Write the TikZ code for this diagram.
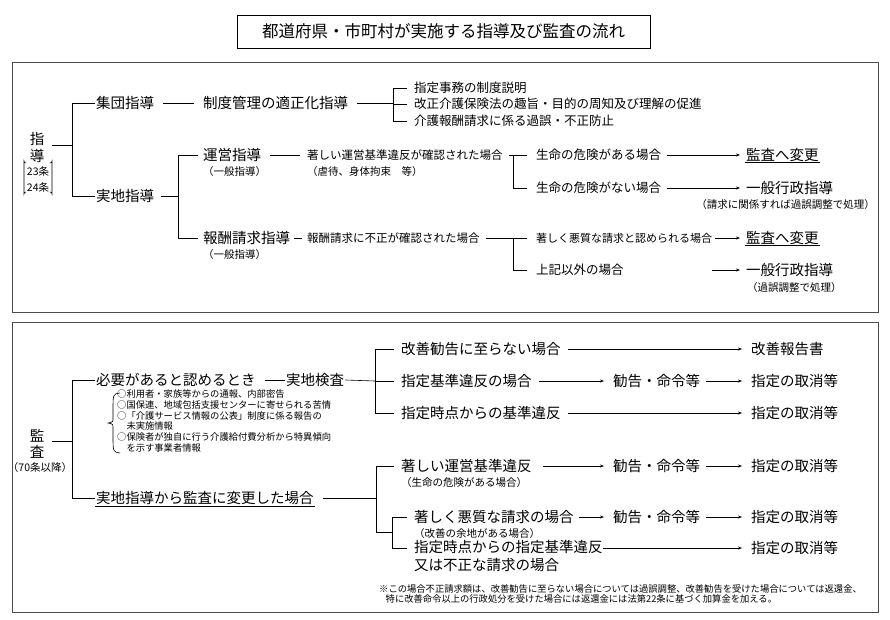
\documentclass[tikz,border=0pt]{standalone}
\usepackage{fontspec}
\setmainfont{Noto Sans CJK JP}
\usetikzlibrary{arrows.meta,calc}
\begin{document}
\begin{tikzpicture}[x=1pt,y=-1pt,
  every node/.style={inner sep=1pt,anchor=west},
  big/.style={font=\fontsize{14.5}{16}\selectfont},
  mid/.style={font=\fontsize{12.5}{14}\selectfont},
  sm/.style={font=\fontsize{10.5}{12}\selectfont},
  tiny/.style={font=\fontsize{9.3}{10.7}\selectfont,align=left},
  ln/.style={line width=0.6pt},
  ar/.style={line width=0.6pt,-{Stealth[length=4pt,width=3pt]}},
  ul/.style={line width=0.8pt}]
\useasboundingbox (0,0) rectangle (890,619);
\draw[line width=0.8pt] (237,15) rectangle (650,48);
\node[anchor=center,font=\fontsize{16.5}{18}\selectfont] (title) at (443.5,31.5) {都道府県・市町村が実施する指導及び監査の流れ};
\draw[line width=0.8pt,draw=black!70] (12,62) rectangle (878,312);
\draw[line width=0.8pt,draw=black!70] (12,322) rectangle (878,612);

% ---- upper ----
\node[big,anchor=center] (shi) at (37,139) {指};
\node[big,anchor=center] (do) at (37,156) {導};
\node[sm,anchor=center] (j23) at (38,171) {23条};
\node[sm,anchor=center] (j24) at (38,187) {24条};
\draw[ln] (26,163) arc[start angle=90,end angle=180,radius=2] -- (24,194) arc[start angle=180,end angle=270,radius=2];
\draw[ln] (50,163) arc[start angle=90,end angle=0,radius=2] -- (52,194) arc[start angle=0,end angle=-90,radius=2];
\coordinate (v1) at (72,145);
\draw[ln] (52,145) -- (v1);
\node[big] (shudan) at (95,103) {集団指導};
\node[big] (jitchi) at (95,196) {実地指導};
\draw[ln] (shudan.west) -- ++(-23,0) |- (jitchi.west);
\node[big] (seido) at (202,103) {制度管理の適正化指導};
\draw[ln] ([xshift=8pt]shudan.east) -- ([xshift=-8pt]seido.west);
\node[mid] (t1) at (413,88) {指定事務の制度説明};
\node[mid] (t2) at (413,104) {改正介護保険法の趣旨・目的の周知及び理解の促進};
\node[mid] (t3) at (413,121) {介護報酬請求に係る過誤・不正防止};
\draw[ln] ([xshift=8pt]seido.east) -- (393,103);
\draw[ln] ([xshift=-6pt]t1.west) -- (393,88) -- (393,121) -- ([xshift=-6pt]t3.west);
\draw[ln] (393,104) -- ([xshift=-6pt]t2.west);

\node[big] (unei) at (202,155) {運営指導};
\node[sm] (unei2) at (202,172) {（一般指導）};
\node[big] (hoshu) at (202,238) {報酬請求指導};
\node[sm] (hoshu2) at (202,255) {（一般指導）};
\draw[ln] ([xshift=6pt]jitchi.east) -- (178,196);
\draw[ln] ([xshift=-4pt]unei.west) -- (178,155) |- ([xshift=-4pt]hoshu.west);

\node[font=\fontsize{11.5}{13}\selectfont] (ichi) at (306,155) {著しい運営基準違反が確認された場合};
\node[sm] (ichi2) at (306,172) {（虐待、身体拘束　等）};
\draw[ln] ([xshift=8pt]unei.east) -- ([xshift=-6pt]ichi.west);
\node[mid] (ari) at (535,155) {生命の危険がある場合};
\node[mid] (nai) at (535,188) {生命の危険がない場合};
\draw[ln] ([xshift=5pt]ichi.east) -- ([xshift=-8pt]ari.west);
\draw[ln] (513,155) |- ([xshift=-8pt]nai.west);
\node[big] (k1) at (745,155) {監査へ変更};
\draw[ul] (k1.south west) -- (k1.south east);
\node[big] (ip1) at (745,188) {一般行政指導};
\node[sm,anchor=east] (ip1b) at (876,205) {（請求に関係すれば過誤調整で処理）};
\draw[ar] ([xshift=5pt]ari.east) -- ([xshift=-5pt]k1.west);
\draw[ar] ([xshift=5pt]nai.east) -- ([xshift=-5pt]ip1.west);

\node[font=\fontsize{11.5}{13}\selectfont] (fusei) at (306,238) {報酬請求に不正が確認された場合};
\draw[ln] ([xshift=3pt]hoshu.east) -- ([xshift=-4pt]fusei.west);
\node[font=\fontsize{11}{13}\selectfont] (akushitsu) at (535,238) {著しく悪質な請求と認められる場合};
\node[mid] (igai) at (535,270) {上記以外の場合};
\draw[ln] ([xshift=5pt]fusei.east) -- ([xshift=-8pt]akushitsu.west);
\draw[ln] (513,238) |- ([xshift=-8pt]igai.west);
\node[big] (k2) at (745,238) {監査へ変更};
\draw[ul] (k2.south west) -- (k2.south east);
\node[big] (ip2) at (745,270) {一般行政指導};
\node[sm] (ip2b) at (746,288) {（過誤調整で処理）};
\draw[ar] ([xshift=2pt]akushitsu.east) -- ([xshift=-5pt]k2.west);
\draw[ar] (712,270) -- ([xshift=-5pt]ip2.west);

% ---- lower ----
\node[big,anchor=center] (kan) at (37,436) {監};
\node[big,anchor=center] (sa) at (37,452) {査};
\node[sm,anchor=center] (j70) at (40,467) {（70条以降）};
\draw[ln] (52,441) -- (72,441);
\node[big] (hitsuyo) at (95,380) {必要があると認めるとき};
\node[big] (henko) at (95,498) {実地指導から監査に変更した場合};
\draw[ul] (henko.south west) -- (henko.south east);
\draw[ln] (hitsuyo.west) -- ++(-23,0) |- (henko.west);
\node[big] (kensa) at (285,380) {実地検査};
\draw[ln] ([xshift=8pt]hitsuyo.east) -- (kensa.west);
\node[tiny] (items) at (116,421) {○利用者・家族等からの通報、内部密告\\○国保連、地域包括支援センターに寄せられる苦情\\○「介護サービス情報の公表」制度に係る報告の\\\hspace*{1em}未実施情報\\○保険者が独自に行う介護給付費分析から特異傾向\\\hspace*{1em}を示す事業者情報};
\draw[ln] (120,393) .. controls (113,394) .. (113,410) -- (113,418) .. controls (113,422) .. (108,423) .. controls (113,424) .. (113,428) -- (113,436) .. controls (113,452) .. (120,453);

\node[big] (a1) at (400,349) {改善勧告に至らない場合};
\node[big] (a2) at (400,381) {指定基準違反の場合};
\node[big] (a3) at (400,413) {指定時点からの基準違反};
\draw[ln] (kensa.east) -- (375,381);
\draw[ln] ([xshift=-6pt]a1.west) -- (375,349) |- ([xshift=-6pt]a3.west);
\draw[ln] (375,381) -- ([xshift=-6pt]a2.west);
\node[big] (r1) at (750,349) {改善報告書};
\node[big] (m1) at (612,381) {勧告・命令等};
\node[big] (r2) at (750,381) {指定の取消等};
\node[big] (r3) at (750,413) {指定の取消等};
\draw[ar] ([xshift=6pt]a1.east) -- ([xshift=-8pt]r1.west);
\draw[ar] ([xshift=6pt]a2.east) -- ([xshift=-8pt]m1.west);
\draw[ar] ([xshift=5pt]m1.east) -- ([xshift=-8pt]r2.west);
\draw[ar] ([xshift=6pt]a3.east) -- ([xshift=-8pt]r3.west);

\node[big] (b1) at (400,466) {著しい運営基準違反};
\node[sm] (b1b) at (400,482) {（生命の危険がある場合）};
\node[big] (b2) at (413,517) {著しく悪質な請求の場合};
\node[sm] (b2b) at (413,533) {（改善の余地がある場合）};
\node[big,align=left,font=\fontsize{14.5}{18}\selectfont,anchor=north west] (b3) at (413,539) {指定時点からの指定基準違反\\又は不正な請求の場合};
\coordinate (b3a) at (413,548);
\draw[ln] ([xshift=8pt]henko.east) -- (376,498);
\draw[ln] ([xshift=-6pt]b1.west) -- (376,466) -- (376,532) -- (392,532);
\draw[ln] ([xshift=-6pt]b2.west) -- (392,517) -- (392,548) -- ([xshift=-6pt]b3a);
\node[big] (m2) at (612,466) {勧告・命令等};
\node[big] (r4) at (750,466) {指定の取消等};
\node[big] (m3) at (612,517) {勧告・命令等};
\node[big] (r5) at (750,517) {指定の取消等};
\node[big] (r6) at (750,548) {指定の取消等};
\draw[ar] ([xshift=10pt]b1.east) -- ([xshift=-8pt]m2.west);
\draw[ar] ([xshift=5pt]m2.east) -- ([xshift=-8pt]r4.west);
\draw[ar] ([xshift=4pt]b2.east) -- ([xshift=-8pt]m3.west);
\draw[ar] ([xshift=5pt]m3.east) -- ([xshift=-8pt]r5.west);
\draw[ar] (603,548) -- ([xshift=-8pt]r6.west);
\node[tiny] (note) at (378,594) {※この場合不正請求額は、改善勧告に至らない場合については過誤調整、改善勧告を受けた場合については返還金、\\\hspace*{0.7em}特に改善命令以上の行政処分を受けた場合には返還金には法第22条に基づく加算金を加える。};
\end{tikzpicture}
\end{document}
